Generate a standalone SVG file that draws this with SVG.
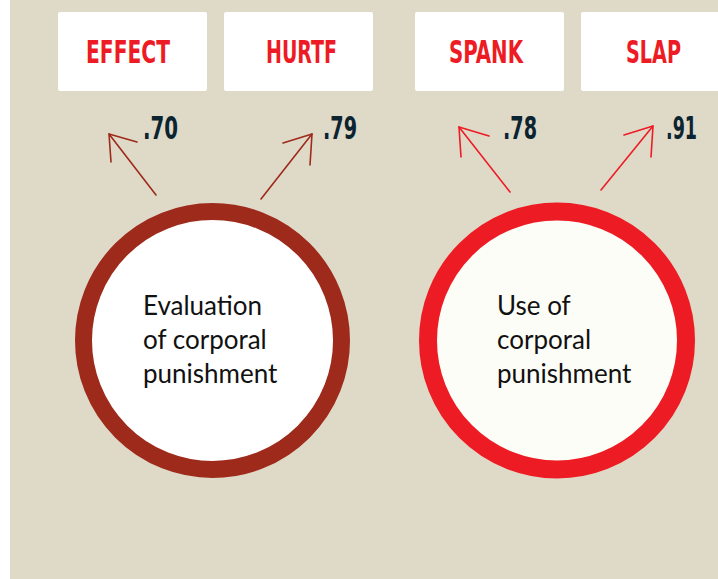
<svg xmlns="http://www.w3.org/2000/svg" width="718" height="579" viewBox="0 0 718 579">
  <defs>
    <style>
      .box { fill: #ffffff; }
      .boxlabel { font-family: "Liberation Sans Narrow", "DejaVu Sans Condensed", "Liberation Sans", sans-serif; font-weight: bold; font-size: 32px; fill: #ed1c24; }
      .coef { font-family: "Liberation Sans Narrow", "DejaVu Sans Condensed", "Liberation Sans", sans-serif; font-weight: bold; font-size: 32px; fill: #0c2330; }
      .circtext { font-family: Lato, "Open Sans", sans-serif; font-size: 26px; fill: #111111; }
      .dark { stroke: #9e2a1b; }
      .bright { stroke: #ed1c24; }
      .arrow { fill: none; stroke-width: 1.6; stroke-linecap: round; stroke-linejoin: round; }
    </style>
  </defs>

  <!-- page background -->
  <rect x="0" y="0" width="718" height="579" fill="#ffffff"/>
  <rect x="10" y="0" width="708" height="579" fill="#dfd9c8"/>

  <!-- indicator boxes -->
  <g id="node-effect">
    <rect class="box" x="58" y="12" width="149" height="79" rx="2"/>
    <text class="boxlabel" x="86" y="63" textLength="84" lengthAdjust="spacingAndGlyphs">EFFECT</text>
  </g>
  <g id="node-hurtf">
    <rect class="box" x="224" y="12" width="149" height="79" rx="2"/>
    <text class="boxlabel" x="266" y="63" textLength="71" lengthAdjust="spacingAndGlyphs">HURTF</text>
  </g>
  <g id="node-spank">
    <rect class="box" x="415" y="12" width="149" height="79" rx="2"/>
    <text class="boxlabel" x="449" y="63" textLength="74" lengthAdjust="spacingAndGlyphs">SPANK</text>
  </g>
  <g id="node-slap">
    <rect class="box" x="581" y="12" width="149" height="79" rx="2"/>
    <text class="boxlabel" x="626" y="63" textLength="55" lengthAdjust="spacingAndGlyphs">SLAP</text>
  </g>

  <!-- latent factors -->
  <g id="node-evaluation">
    <circle cx="212.5" cy="340.5" r="129" fill="#ffffff" stroke="#9e2a1b" stroke-width="17"/>
    <text class="circtext" x="143" y="315">Evaluation</text>
    <text class="circtext" x="143" y="349">of corporal</text>
    <text class="circtext" x="143" y="383">punishment</text>
  </g>
  <g id="node-use">
    <circle cx="557" cy="340.5" r="129" fill="#fdfdf8" stroke="#ed1c24" stroke-width="18"/>
    <text class="circtext" x="497" y="315">Use of</text>
    <text class="circtext" x="497" y="349">corporal</text>
    <text class="circtext" x="497" y="383">punishment</text>
  </g>

  <!-- loading arrows -->
  <g id="connectors">
    <g class="arrow dark">
      <path d="M156,195 L109,134"/>
      <path d="M111,162 L109,134 L137,142"/>
      <path d="M261,199 L312,134"/>
      <path d="M310,165 L312,134 L283,143"/>
    </g>
    <g class="arrow bright">
      <path d="M510,192 L459,127"/>
      <path d="M461,157 L459,127 L489,136"/>
      <path d="M601,190 L653,126"/>
      <path d="M651,157 L653,126 L624,135"/>
    </g>
  </g>

  <!-- loading values -->
  <g id="loadings">
    <text class="coef" x="143" y="139" textLength="35" lengthAdjust="spacingAndGlyphs">.70</text>
    <text class="coef" x="323" y="139" textLength="34" lengthAdjust="spacingAndGlyphs">.79</text>
    <text class="coef" x="503" y="139" textLength="34" lengthAdjust="spacingAndGlyphs">.78</text>
    <text class="coef" x="666" y="139" textLength="31" lengthAdjust="spacingAndGlyphs">.91</text>
  </g>
</svg>
